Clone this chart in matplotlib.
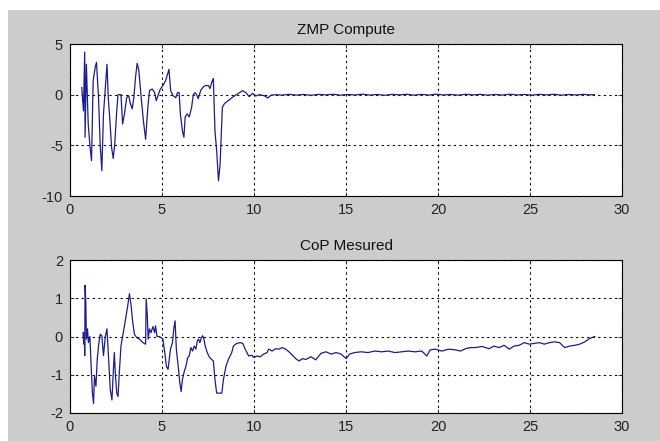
import matplotlib
matplotlib.use("Agg")
import matplotlib.pyplot as plt
from matplotlib.patches import Rectangle

# ---- data: ZMP Compute ----
zmp_t = [0.64, 0.73, 0.80, 0.82, 0.89, 0.99, 1.09, 1.17, 1.26, 1.37, 1.44, 1.55, 1.64, 1.73,
         1.82, 1.92, 2.01, 2.08, 2.17, 2.26, 2.35, 2.43, 2.54, 2.61, 2.77, 2.86, 2.96, 3.08,
         3.19, 3.27, 3.38, 3.47, 3.56, 3.65, 3.74, 3.87, 3.99, 4.11, 4.23, 4.32, 4.47, 4.60,
         4.69, 4.78, 4.91, 5.05, 5.20, 5.33, 5.38, 5.47, 5.60, 5.75, 5.84, 5.93, 6.00, 6.11,
         6.19, 6.26, 6.37, 6.48, 6.61, 6.70, 6.79, 6.88, 6.97, 7.10, 7.21, 7.35, 7.52, 7.61,
         7.70, 7.79, 7.88, 7.97, 8.07, 8.16, 8.21, 8.28, 8.39, 8.55, 8.83, 9.10, 9.38, 9.56,
         9.74, 9.92, 10.10, 10.28, 10.56, 10.74, 10.93, 11.20,
         11.5, 11.9, 12.3, 12.7, 13.1, 13.5, 13.9, 14.3, 14.7, 15.1, 15.5, 15.9, 16.3, 16.7,
         17.1, 17.5, 17.9, 18.3, 18.7, 19.1, 19.5, 19.9, 20.3, 20.7, 21.1, 21.5, 21.9, 22.3,
         22.7, 23.1, 23.5, 23.9, 24.3, 24.7, 25.1, 25.5, 25.9, 26.3, 26.7, 27.1, 27.5, 27.9,
         28.2, 28.5]
zmp_v = [0.7, -1.6, 4.2, -4.2, 3.0, -2.9, -5.2, -6.5, 1.4, 2.7, 3.2, -0.3, -4.9, -7.5,
         -1.9, 0.7, 3.0, -0.3, -2.6, -5.2, -6.3, -4.9, -1.6, 0.0, 0.0, -2.9, -1.9, -0.3,
         -0.1, -0.8, -1.4, -0.3, 1.7, 3.1, 2.4, -0.3, -2.6, -4.4, -1.25, 0.4, 0.56, 0.2,
         -0.6, -0.1, 0.56, 0.9, 1.4, 2.2, 2.5, 0.4, -0.1, -0.3, 0.2, 0.2, -1.9, -3.6,
         -4.2, -2.2, -1.9, -2.2, -1.25, 0.0, 0.2, 0.0, -0.4, 0.4, 0.7, 0.9, 0.9, 0.6,
         1.2, 1.6, -3.6, -5.5, -8.5, -6.8, -4.5, -1.25, -0.9, -0.66, -0.26, 0.07, 0.4, 0.2,
         -0.2, 0.13, -0.13, 0.0, -0.1, -0.33, -0.05, 0.0,
         -0.05, 0.03, -0.04, 0.02, -0.06, 0.03, -0.02, 0.04, -0.05, 0.02, -0.03, 0.05, -0.04, 0.02,
         -0.06, 0.03, -0.02, 0.04, -0.05, 0.03, -0.04, 0.05, -0.03, 0.02, -0.05, 0.04, -0.02, 0.03,
         -0.05, 0.02, -0.04, 0.05, -0.03, 0.02, -0.05, 0.03, -0.02, 0.04, -0.05, 0.02, -0.03, 0.03,
         -0.02, 0.0]

# ---- data: CoP Mesured ----
cop_t = [0.71, 0.75, 0.78, 0.80, 0.82, 0.86, 0.89, 0.95, 1.00, 1.08, 1.15, 1.22, 1.28, 1.33,
         1.41, 1.48, 1.55, 1.64, 1.73, 1.82, 1.92, 2.01, 2.10, 2.19, 2.28, 2.35, 2.41, 2.46,
         2.54, 2.61, 2.68, 2.77, 2.86, 2.96, 3.05, 3.14, 3.23, 3.32, 3.41, 3.50, 3.63, 3.78,
         3.96, 4.11, 4.14, 4.20, 4.25, 4.32, 4.40, 4.51, 4.60, 4.65, 4.73, 4.84, 4.96, 5.05,
         5.15, 5.24, 5.33, 5.46, 5.57, 5.64, 5.71, 5.78, 5.88, 5.97, 6.04, 6.11, 6.19, 6.30,
         6.39, 6.48, 6.57, 6.66, 6.75, 6.84, 6.92, 6.99, 7.06, 7.14, 7.21, 7.28, 7.35, 7.43,
         7.54, 7.61, 7.70, 7.79, 7.88, 7.97, 8.25, 8.34, 8.48, 8.61, 8.79, 8.88, 9.06, 9.25,
         9.39, 9.52, 9.71, 9.89, 9.98, 10.16, 10.34, 10.53, 10.71, 10.80, 10.99, 11.17, 11.35,
         11.54, 11.72, 11.90, 12.09, 12.27, 12.45, 12.63, 12.82, 13.09, 13.36, 13.64, 13.91,
         14.19, 14.46, 14.73, 15.01, 15.19, 15.47, 15.83, 16.20, 16.56, 16.93, 17.29, 17.66,
         18.02, 18.39, 18.75, 19.12, 19.39, 19.57, 19.85, 20.21, 20.58, 20.94, 21.22, 21.49,
         21.76, 22.04, 22.40, 22.77, 23.04, 23.32, 23.59, 23.87, 24.14, 24.41, 24.69, 24.96,
         25.24, 25.51, 25.78, 26.06, 26.33, 26.61, 26.88, 27.16, 27.43, 27.70, 27.98, 28.25,
         28.52]
cop_v = [0.1, -0.2, 0.1, -0.5, 1.34, 0.9, -0.07, 0.2, -0.16, 0.0, -0.78, -1.48, -1.75, -1.04,
         -1.3, -0.6, -0.25, 0.06, 0.02, -0.5, 0.0, 0.2, -0.6, -1.4, -1.66, -0.95, -0.42, -0.95,
         -1.48, -1.57, -0.95, -0.25, 0.0, 0.28, 0.55, 0.81, 1.12, 0.81, 0.37, 0.06, -0.03, -0.07,
         -0.16, -0.2, 0.99, 0.55, -0.07, 0.2, 0.1, 0.26, 0.1, 0.28, 0.0, 0.0, -0.03, -0.07,
         -0.42, -0.78, -0.86, -0.33, -0.16, 0.2, 0.41, -0.33, -0.78, -1.22, -1.44, -1.13, -0.95, -0.78,
         -0.56, -0.51, -0.29, -0.38, -0.25, -0.33, -0.11, -0.07, -0.16, -0.03, 0.02, -0.07, -0.25, -0.38,
         -0.51, -0.56, -0.6, -0.64, -1.13, -1.48, -1.48, -1.12, -0.77, -0.6, -0.42, -0.25, -0.18, -0.16,
         -0.18, -0.33, -0.51, -0.49, -0.55, -0.51, -0.53, -0.46, -0.42, -0.33, -0.38, -0.32, -0.33,
         -0.29, -0.33, -0.40, -0.49, -0.58, -0.64, -0.58, -0.60, -0.53, -0.61, -0.44, -0.40,
         -0.46, -0.42, -0.46, -0.58, -0.46, -0.42, -0.40, -0.42, -0.38, -0.40, -0.38, -0.42,
         -0.40, -0.38, -0.40, -0.38, -0.51, -0.35, -0.33, -0.38, -0.33, -0.35, -0.38, -0.32,
         -0.29, -0.29, -0.26, -0.32, -0.25, -0.29, -0.23, -0.33, -0.25, -0.23, -0.16, -0.20,
         -0.18, -0.16, -0.20, -0.16, -0.14, -0.16, -0.29, -0.25, -0.23, -0.20, -0.14, -0.05,
         0.0]

xticks = [0, 5, 10, 15, 20, 25, 30]
zmp_yticks = [-10, -5, 0, 5]
cop_yticks = [-2, -1, 0, 1, 2]
titles = ["ZMP Compute", "CoP Mesured"]

plt.rcParams['font.family'] = ['Liberation Sans', 'DejaVu Sans']
plt.rcParams['axes.unicode_minus'] = False

W, H = 660, 441
fig = plt.figure(figsize=(W / 100, H / 100), dpi=100, facecolor='white')
fig.patches.append(Rectangle((8 / W, 0), 1 - 8 / W, 1 - 10 / H, transform=fig.transFigure,
                             facecolor='#cccccc', edgecolor='none', zorder=-10))

left, right = 70 / W, 622 / W
ax1 = fig.add_axes([left, 1 - 196 / H, right - left, (196 - 44) / H])
ax2 = fig.add_axes([left, 1 - 413 / H, right - left, (413 - 260) / H])

line_color = '#1c1c8c'
for ax, t, v, yt, title in [(ax1, zmp_t, zmp_v, zmp_yticks, titles[0]),
                            (ax2, cop_t, cop_v, cop_yticks, titles[1])]:
    ax.set_facecolor('white')
    ax.plot(t, v, color=line_color, lw=0.9)
    ax.set_xlim(0, 30)
    ax.set_ylim(yt[0], yt[-1])
    ax.set_xticks(xticks)
    ax.set_yticks(yt)
    ax.grid(True, color='black', linestyle=(0, (2, 3)), linewidth=0.8)
    ax.tick_params(direction='in', length=3, top=True, right=True, labelsize=10.5,
                   colors='#222222', width=0.6)
    ax.tick_params(axis='x', pad=5)
    ax.tick_params(axis='y', pad=5)
    for s in ax.spines.values():
        s.set_color('black')
        s.set_linewidth(0.8)
    ax.set_title(title, fontsize=11, color='#111111', pad=7)

fig.savefig('out.png', dpi=100, facecolor=fig.get_facecolor())
